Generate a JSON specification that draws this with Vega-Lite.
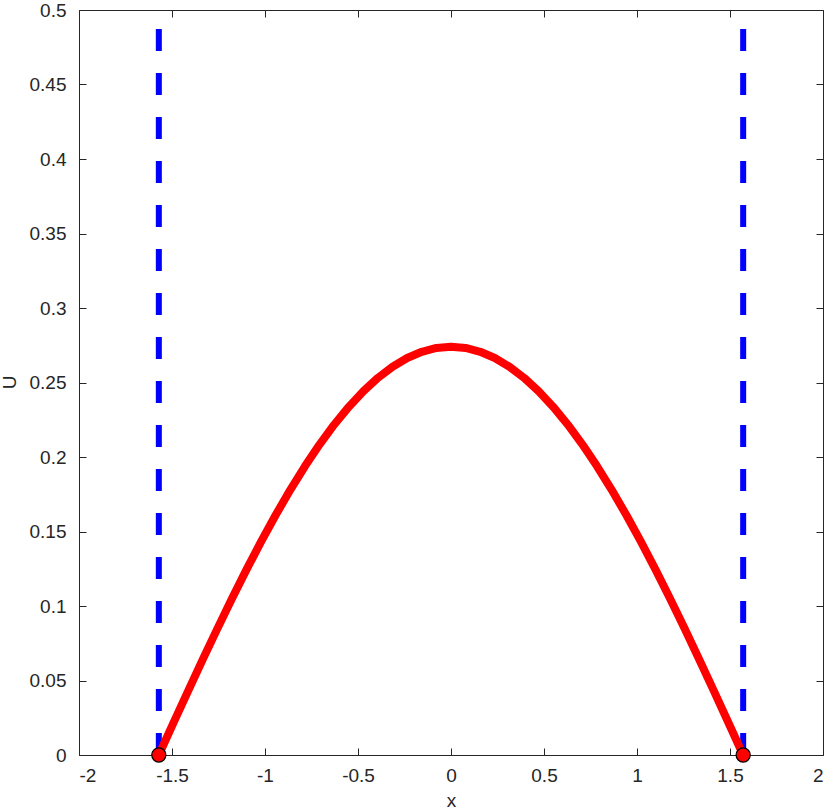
{
  "$schema": "https://vega.github.io/schema/vega-lite/v6.json",
  "width": 744,
  "height": 745,
  "autosize": "none",
  "padding": {"left": 79, "top": 10, "right": 7, "bottom": 54},
  "background": "white",
  "config": {
    "font": "Liberation Sans",
    "view": {"stroke": "#262626", "strokeWidth": 1},
    "axis": {
      "grid": false,
      "domain": false,
      "tickColor": "#262626",
      "tickSize": -7,
      "labelColor": "#262626",
      "labelFontSize": 19,
      "labelFont": "Liberation Sans",
      "titleFont": "Liberation Sans",
      "titleFontSize": 19,
      "titleFontWeight": "normal",
      "titleColor": "#262626"
    }
  },
  "datasets": {
    "walls": [
      {"side": "L", "x": -1.5708, "y": 0},
      {"side": "L", "x": -1.5708, "y": 0.5},
      {"side": "R", "x": 1.5708, "y": 0},
      {"side": "R", "x": 1.5708, "y": 0.5}
    ],
    "curve": [
      {"x": -1.5708, "y": 0},
      {"x": -1.4923, "y": 0.0215},
      {"x": -1.4137, "y": 0.04286},
      {"x": -1.3352, "y": 0.06397},
      {"x": -1.2566, "y": 0.08467},
      {"x": -1.1781, "y": 0.10485},
      {"x": -1.0996, "y": 0.12439},
      {"x": -1.021, "y": 0.14317},
      {"x": -0.9425, "y": 0.16105},
      {"x": -0.8639, "y": 0.17795},
      {"x": -0.7854, "y": 0.19375},
      {"x": -0.7069, "y": 0.20835},
      {"x": -0.6283, "y": 0.22167},
      {"x": -0.5498, "y": 0.23362},
      {"x": -0.4712, "y": 0.24414},
      {"x": -0.3927, "y": 0.25314},
      {"x": -0.3142, "y": 0.26059},
      {"x": -0.2356, "y": 0.26643},
      {"x": -0.1571, "y": 0.27063},
      {"x": -0.0785, "y": 0.27316},
      {"x": 0, "y": 0.274},
      {"x": 0.0785, "y": 0.27316},
      {"x": 0.1571, "y": 0.27063},
      {"x": 0.2356, "y": 0.26643},
      {"x": 0.3142, "y": 0.26059},
      {"x": 0.3927, "y": 0.25314},
      {"x": 0.4712, "y": 0.24414},
      {"x": 0.5498, "y": 0.23362},
      {"x": 0.6283, "y": 0.22167},
      {"x": 0.7069, "y": 0.20835},
      {"x": 0.7854, "y": 0.19375},
      {"x": 0.8639, "y": 0.17795},
      {"x": 0.9425, "y": 0.16105},
      {"x": 1.021, "y": 0.14317},
      {"x": 1.0996, "y": 0.12439},
      {"x": 1.1781, "y": 0.10485},
      {"x": 1.2566, "y": 0.08467},
      {"x": 1.3352, "y": 0.06397},
      {"x": 1.4137, "y": 0.04286},
      {"x": 1.4923, "y": 0.0215},
      {"x": 1.5708, "y": 0}
    ],
    "dots": [
      {"x": -1.5708, "y": 0},
      {"x": 1.5708, "y": 0}
    ]
  },
  "layer": [
    {
      "data": {"name": "walls"},
      "mark": {"type": "line", "color": "#0000ff", "strokeWidth": 6, "strokeDash": [22, 22], "strokeCap": "butt", "clip": true},
      "encoding": {
        "x": {
          "field": "x", "type": "quantitative",
          "scale": {"domain": [-2, 2], "nice": false, "zero": false},
          "axis": {
            "orient": "bottom",
            "values": [-2, -1.5, -1, -0.5, 0, 0.5, 1, 1.5, 2],
            "labelExpr": "'' + datum.value",
            "labelPadding": 18,
            "title": "x",
            "titleX": 372,
            "titleY": 51,
            "titleBaseline": "alphabetic",
            "titleAlign": "center"
          }
        },
        "y": {
          "field": "y", "type": "quantitative",
          "scale": {"domain": [0, 0.5], "nice": false},
          "axis": {
            "orient": "left",
            "values": [0, 0.05, 0.1, 0.15, 0.2, 0.25, 0.3, 0.35, 0.4, 0.45, 0.5],
            "labelExpr": "'' + datum.value",
            "labelPadding": 20,
            "title": "U",
            "titleX": -64,
            "titleY": 372,
            "titleAngle": -90,
            "titleBaseline": "alphabetic",
            "titleAlign": "center"
          }
        },
        "detail": {"field": "side"},
        "order": {"field": "y", "type": "quantitative"}
      }
    },
    {
      "data": {"name": "curve"},
      "mark": {"type": "line", "color": "#ff0000", "strokeWidth": 8, "strokeJoin": "round"},
      "encoding": {
        "x": {
          "field": "x", "type": "quantitative",
          "axis": {"orient": "top", "values": [-2, -1.5, -1, -0.5, 0, 0.5, 1, 1.5, 2], "labels": false, "title": null}
        },
        "y": {
          "field": "y", "type": "quantitative",
          "axis": {"orient": "right", "values": [0, 0.05, 0.1, 0.15, 0.2, 0.25, 0.3, 0.35, 0.4, 0.45, 0.5], "labels": false, "title": null}
        }
      }
    },
    {
      "data": {"name": "dots"},
      "mark": {"type": "point", "shape": "circle", "filled": true, "fill": "#ff0000", "stroke": "#000000", "strokeWidth": 1.2, "size": 200, "opacity": 1},
      "encoding": {
        "x": {"field": "x", "type": "quantitative", "axis": null},
        "y": {"field": "y", "type": "quantitative", "axis": null}
      }
    }
  ],
  "resolve": {"axis": {"x": "independent", "y": "independent"}}
}
